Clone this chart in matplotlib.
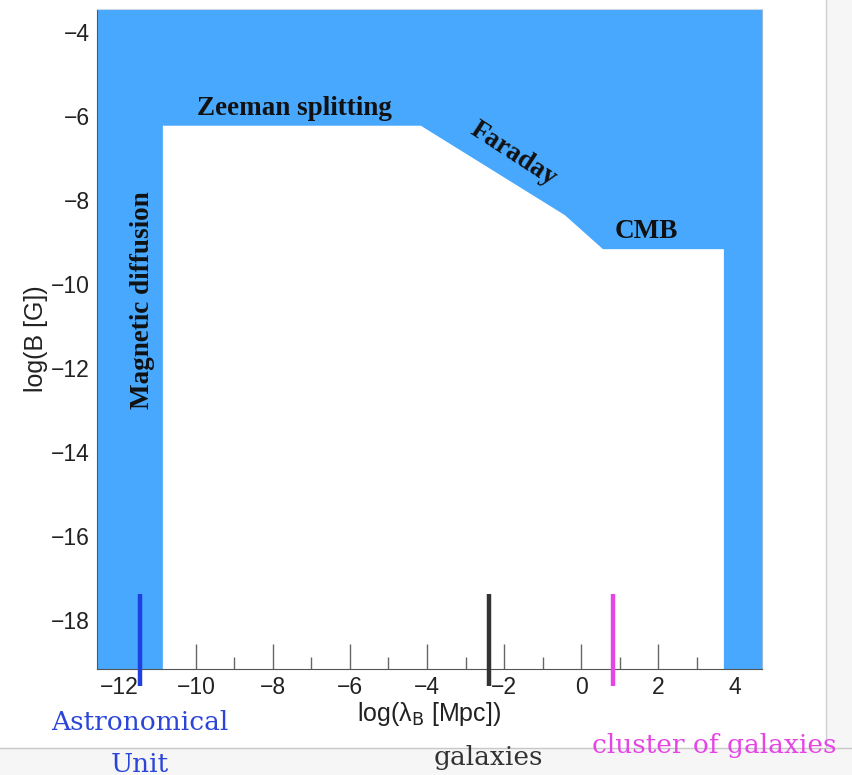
import numpy as np
import matplotlib.pyplot as plt
from matplotlib.patches import Rectangle
from matplotlib.lines import Line2D

# allowed region boundary (log lambda_B [Mpc], log B [G])
diffusion_x = -10.86
hubble_x = 3.71
bound_x = [-10.86, -4.16, -0.42, 0.57, 3.71]
bound_y = [-6.23, -6.23, -8.36, -9.17, -9.17]

# characteristic scales
scale_names = ["Astronomical\nUnit", "galaxies", "cluster of galaxies"]
scale_x = [-11.45, -2.39, 0.83]
scale_colors = ["#1f3fe0", "#333333", "#e645e6"]
scale_top = -17.38

xticks = [-12, -10, -8, -6, -4, -2, 0, 2, 4]
yticks = [-4, -6, -8, -10, -12, -14, -16, -18]
xlim = (-12.57, 4.70)
ylim = (-19.17, -3.45)

blue = "#47a8fd"

fig = plt.figure(figsize=(8.52, 7.75), dpi=100)

# page background around the plot
fig.patches.append(Rectangle((826/852, 0), 1, 1, transform=fig.transFigure,
                             facecolor="#f6f6f6", edgecolor="none", zorder=-5))
fig.patches.append(Rectangle((0, 0), 1, 1 - 748/775, transform=fig.transFigure,
                             facecolor="#f6f6f6", edgecolor="none", zorder=-5))
fig.lines.append(Line2D([826/852, 826/852], [1 - 748/775, 1], transform=fig.transFigure,
                        color="#d0d0d0", lw=1))
fig.lines.append(Line2D([0, 1], [1 - 748/775, 1 - 748/775], transform=fig.transFigure,
                        color="#c8c8c8", lw=1))

ax = fig.add_axes([97/852, 1 - 669/775, (762 - 97)/852, (669 - 9)/775])

# excluded region: everything outside the allowed polygon, drawn over the ticks
top = ylim[1] + 1
low = ylim[0] - 1
px = [xlim[0] - 1, diffusion_x] + bound_x + [hubble_x, xlim[1] + 1, xlim[1] + 1, xlim[0] - 1]
py = [low, low] + bound_y + [low, low, top, top]
ax.fill(px, py, color=blue, lw=0, zorder=2)

ax.set_xlim(*xlim)
ax.set_ylim(*ylim)

for x, c in zip(scale_x, scale_colors):
    ax.plot([x, x], [scale_top, ylim[0] - 0.4], color=c, lw=3.2,
            solid_capstyle="butt", clip_on=False, zorder=5)

ax.set_xticks(xticks)
ax.set_xticks(np.arange(-12, 5, 1), minor=True)
ax.set_yticks(yticks)
ax.set_yticks(np.arange(-19, -3, 1), minor=True)
ax.set_xticklabels(["\u2212%d" % -t if t < 0 else "%d" % t for t in xticks])
ax.set_yticklabels(["\u2212%d" % -t for t in yticks])
ax.tick_params(axis="x", which="major", direction="in", length=18, width=1,
               color="#666666", labelsize=16.5, pad=5)
ax.tick_params(axis="x", which="minor", direction="in", length=9, width=1,
               color="#666666")
ax.tick_params(axis="y", which="both", direction="in", length=2.5, width=1,
               color="#555555", labelsize=16.5, pad=5)
for lab in ax.get_xticklabels() + ax.get_yticklabels():
    lab.set_family("Liberation Sans")
    lab.set_color("#222222")

ax.spines["left"].set_color("#555555")
ax.spines["bottom"].set_color("#555555")
ax.spines["top"].set_color("#c9d6e6")
ax.spines["right"].set_color("#9bb5d6")
for s in ax.spines.values():
    s.set_zorder(3)

ax.set_xlabel(r"log(λ$_\mathrm{B}$ [Mpc])", fontsize=18, family="Liberation Sans",
              color="#222222", labelpad=1)
ax.set_ylabel("log(B [G])", fontsize=18, family="Liberation Sans",
              color="#222222", labelpad=2)
plt.rcParams["mathtext.fontset"] = "custom"
plt.rcParams["mathtext.rm"] = "Liberation Sans"

# constraint labels
bold = dict(family="Liberation Serif", fontweight="bold", fontsize=19.5, color="#111111",
            ha="center", va="center", zorder=6)
ax.text(-7.45, -5.81, "Zeeman splitting", **bold)
ax.text(-11.38, -10.38, "Magnetic diffusion", rotation=90, **bold)
ax.text(-1.75, -6.9, "Faraday", rotation=-33, **bold)
ax.text(1.69, -8.74, "CMB", **bold)

# scale names under the axis
serif = dict(family="DejaVu Serif", fontsize=19, ha="center", va="center")
fig.text(140/852, 1 - 722/775, "Astronomical", color="#2a45d8", **serif)
fig.text(140/852, 1 - 764/775, "Unit", color="#2a45d8", **serif)
fig.text(488/852, 1 - 757/775, "galaxies", color="#333333", **serif)
fig.text(714/852, 1 - 745/775, "cluster of galaxies", color="#e645e6", **serif)

fig.savefig("out.png", dpi=100)
